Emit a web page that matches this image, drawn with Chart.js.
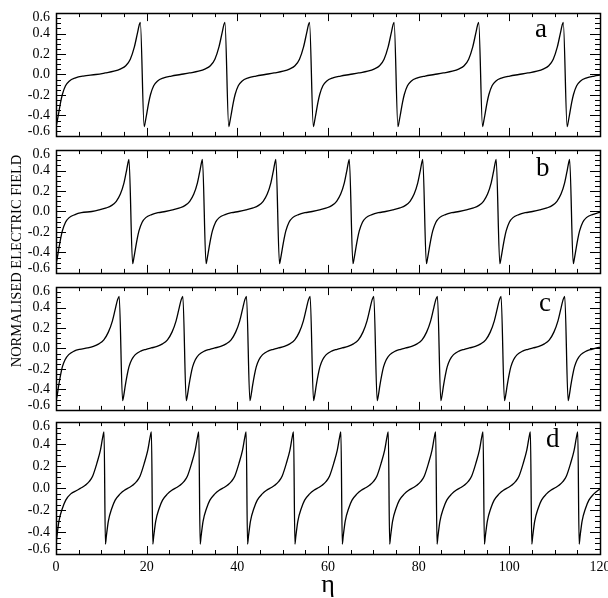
<!DOCTYPE html>
<html>
<head>
<meta charset="utf-8">
<script src="https://cdn.jsdelivr.net/npm/chart.js@4.4.0/dist/chart.umd.min.js"></script>
<style>
  html, body { margin: 0; padding: 0; background: #fff; }
  #wrap { position: relative; width: 608px; height: 598px; overflow: hidden; }
  #wrap canvas { position: absolute; left: 0; }
  #ytitle {
    position: absolute; left: -134px; top: 253px; width: 300px; height: 16px;
    line-height: 16px; text-align: center; transform: rotate(-90deg);
    font: 14.5px "Liberation Serif", "DejaVu Serif", serif; color: #000; white-space: nowrap;
  }
</style>
</head>
<body>
<div id="wrap">
  <canvas id="pa"></canvas>
  <canvas id="pb"></canvas>
  <canvas id="pc"></canvas>
  <canvas id="pd"></canvas>
  <div id="ytitle">NORMALISED ELECTRIC FIELD</div>
</div>
<script>
// ── values ─────────────────────────────────────────────────
const panelLabels = ["a", "b", "c", "d"];
const xTickValues = [0, 20, 40, 60, 80, 100, 120];
const yTickValues = [-0.6, -0.4, -0.2, 0.0, 0.2, 0.4, 0.6];

// panel a
const etaA = [
  0, 0.25, 0.6, 1.0, 1.4, 2.1, 2.9, 4.3, 6.0, 8.79, 10.79, 12.79, 14.29, 15.39, 16.39, 17.29, 17.99, 18.34, 18.6,
  19.45, 19.7, 20.05, 20.45, 20.85, 21.55, 22.35, 23.75, 25.45, 27.45, 29.45, 31.45, 32.95, 34.05, 35.05, 35.95, 36.65, 37.0, 37.26,
  38.11, 38.36, 38.71, 39.11, 39.51, 40.21, 41.01, 42.41, 44.11, 46.11, 48.11, 50.11, 51.61, 52.71, 53.71, 54.61, 55.31, 55.66, 55.92,
  56.77, 57.02, 57.37, 57.77, 58.17, 58.87, 59.67, 61.07, 62.77, 64.77, 66.77, 68.77, 70.27, 71.37, 72.37, 73.27, 73.97, 74.32, 74.58,
  75.43, 75.68, 76.03, 76.43, 76.83, 77.53, 78.33, 79.73, 81.43, 83.43, 85.43, 87.43, 88.93, 90.03, 91.03, 91.93, 92.63, 92.98, 93.24,
  94.09, 94.34, 94.69, 95.09, 95.49, 96.19, 96.99, 98.39, 100.09, 102.09, 104.09, 106.09, 107.59, 108.69, 109.69, 110.59, 111.29, 111.64, 111.9,
  112.75, 113.0, 113.35, 113.75, 114.15, 114.85, 115.65, 117.05, 118.75, 120
];
const fieldA = [
  -0.51, -0.46, -0.375, -0.275, -0.195, -0.11, -0.065, -0.033, -0.015, 0, 0.015, 0.032, 0.055, 0.085, 0.15, 0.27, 0.41, 0.48, 0.51,
  -0.51, -0.46, -0.375, -0.275, -0.195, -0.11, -0.065, -0.033, -0.015, 0, 0.015, 0.032, 0.055, 0.085, 0.15, 0.27, 0.41, 0.48, 0.51,
  -0.51, -0.46, -0.375, -0.275, -0.195, -0.11, -0.065, -0.033, -0.015, 0, 0.015, 0.032, 0.055, 0.085, 0.15, 0.27, 0.41, 0.48, 0.51,
  -0.51, -0.46, -0.375, -0.275, -0.195, -0.11, -0.065, -0.033, -0.015, 0, 0.015, 0.032, 0.055, 0.085, 0.15, 0.27, 0.41, 0.48, 0.51,
  -0.51, -0.46, -0.375, -0.275, -0.195, -0.11, -0.065, -0.033, -0.015, 0, 0.015, 0.032, 0.055, 0.085, 0.15, 0.27, 0.41, 0.48, 0.51,
  -0.51, -0.46, -0.375, -0.275, -0.195, -0.11, -0.065, -0.033, -0.015, 0, 0.015, 0.032, 0.055, 0.085, 0.15, 0.27, 0.41, 0.48, 0.51,
  -0.51, -0.46, -0.375, -0.275, -0.195, -0.11, -0.065, -0.033, -0.015, -0.006
];

// panel b
const etaB = [
  0, 0.25, 0.6, 1.0, 1.4, 2.1, 2.9, 4.2, 5.6, 7.9, 9.5, 11.1, 12.3, 13.3, 14.2, 15.0, 15.6, 15.9, 16.1,
  16.9, 17.15, 17.5, 17.9, 18.3, 19.0, 19.8, 21.1, 22.5, 24.1, 25.7, 27.3, 28.5, 29.5, 30.4, 31.2, 31.8, 32.1, 32.3,
  33.1, 33.35, 33.7, 34.1, 34.5, 35.2, 36.0, 37.3, 38.7, 40.3, 41.9, 43.5, 44.7, 45.7, 46.6, 47.4, 48.0, 48.3, 48.5,
  49.3, 49.55, 49.9, 50.3, 50.7, 51.4, 52.2, 53.5, 54.9, 56.5, 58.1, 59.7, 60.9, 61.9, 62.8, 63.6, 64.2, 64.5, 64.7,
  65.5, 65.75, 66.1, 66.5, 66.9, 67.6, 68.4, 69.7, 71.1, 72.7, 74.3, 75.9, 77.1, 78.1, 79.0, 79.8, 80.4, 80.7, 80.9,
  81.7, 81.95, 82.3, 82.7, 83.1, 83.8, 84.6, 85.9, 87.3, 88.9, 90.5, 92.1, 93.3, 94.3, 95.2, 96.0, 96.6, 96.9, 97.1,
  97.9, 98.15, 98.5, 98.9, 99.3, 100.0, 100.8, 102.1, 103.5, 105.1, 106.7, 108.3, 109.5, 110.5, 111.4, 112.2, 112.8, 113.1, 113.3,
  114.1, 114.35, 114.7, 115.1, 115.5, 116.2, 117.0, 118.3, 119.7, 120
];
const fieldB = [
  -0.51, -0.46, -0.37, -0.27, -0.19, -0.105, -0.06, -0.03, -0.012, 0, 0.015, 0.035, 0.06, 0.1, 0.17, 0.28, 0.41, 0.48, 0.51,
  -0.51, -0.46, -0.37, -0.27, -0.19, -0.105, -0.06, -0.03, -0.012, 0, 0.015, 0.035, 0.06, 0.1, 0.17, 0.28, 0.41, 0.48, 0.51,
  -0.51, -0.46, -0.37, -0.27, -0.19, -0.105, -0.06, -0.03, -0.012, 0, 0.015, 0.035, 0.06, 0.1, 0.17, 0.28, 0.41, 0.48, 0.51,
  -0.51, -0.46, -0.37, -0.27, -0.19, -0.105, -0.06, -0.03, -0.012, 0, 0.015, 0.035, 0.06, 0.1, 0.17, 0.28, 0.41, 0.48, 0.51,
  -0.51, -0.46, -0.37, -0.27, -0.19, -0.105, -0.06, -0.03, -0.012, 0, 0.015, 0.035, 0.06, 0.1, 0.17, 0.28, 0.41, 0.48, 0.51,
  -0.51, -0.46, -0.37, -0.27, -0.19, -0.105, -0.06, -0.03, -0.012, 0, 0.015, 0.035, 0.06, 0.1, 0.17, 0.28, 0.41, 0.48, 0.51,
  -0.51, -0.46, -0.37, -0.27, -0.19, -0.105, -0.06, -0.03, -0.012, 0, 0.015, 0.035, 0.06, 0.1, 0.17, 0.28, 0.41, 0.48, 0.51,
  -0.51, -0.46, -0.37, -0.27, -0.19, -0.105, -0.06, -0.03, -0.012, -0.008
];

// panel c
const etaC = [
  0, 0.25, 0.6, 1.0, 1.4, 2.0, 2.8, 4.0, 5.2, 6.95, 8.25, 9.45, 10.55, 11.55, 12.45, 13.15, 13.6, 13.94,
  14.69, 14.94, 15.29, 15.69, 16.09, 16.69, 17.49, 18.69, 19.89, 20.99, 22.29, 23.49, 24.59, 25.59, 26.49, 27.19, 27.64, 27.98,
  28.73, 28.98, 29.33, 29.73, 30.13, 30.73, 31.53, 32.73, 33.93, 35.03, 36.33, 37.53, 38.63, 39.63, 40.53, 41.23, 41.68, 42.02,
  42.77, 43.02, 43.37, 43.77, 44.17, 44.77, 45.57, 46.77, 47.97, 49.07, 50.37, 51.57, 52.67, 53.67, 54.57, 55.27, 55.72, 56.06,
  56.81, 57.06, 57.41, 57.81, 58.21, 58.81, 59.61, 60.81, 62.01, 63.11, 64.41, 65.61, 66.71, 67.71, 68.61, 69.31, 69.76, 70.1,
  70.85, 71.1, 71.45, 71.85, 72.25, 72.85, 73.65, 74.85, 76.05, 77.15, 78.45, 79.65, 80.75, 81.75, 82.65, 83.35, 83.8, 84.14,
  84.89, 85.14, 85.49, 85.89, 86.29, 86.89, 87.69, 88.89, 90.09, 91.19, 92.49, 93.69, 94.79, 95.79, 96.69, 97.39, 97.84, 98.18,
  98.93, 99.18, 99.53, 99.93, 100.33, 100.93, 101.73, 102.93, 104.13, 105.23, 106.53, 107.73, 108.83, 109.83, 110.73, 111.43, 111.88, 112.22,
  112.97, 113.22, 113.57, 113.97, 114.37, 114.97, 115.77, 116.97, 118.17, 119.27, 120
];
const fieldC = [
  -0.51, -0.46, -0.36, -0.26, -0.18, -0.11, -0.06, -0.025, -0.008, 0.005, 0.02, 0.045, 0.085, 0.16, 0.27, 0.4, 0.48, 0.51,
  -0.51, -0.46, -0.36, -0.26, -0.18, -0.11, -0.06, -0.025, -0.008, 0.005, 0.02, 0.045, 0.085, 0.16, 0.27, 0.4, 0.48, 0.51,
  -0.51, -0.46, -0.36, -0.26, -0.18, -0.11, -0.06, -0.025, -0.008, 0.005, 0.02, 0.045, 0.085, 0.16, 0.27, 0.4, 0.48, 0.51,
  -0.51, -0.46, -0.36, -0.26, -0.18, -0.11, -0.06, -0.025, -0.008, 0.005, 0.02, 0.045, 0.085, 0.16, 0.27, 0.4, 0.48, 0.51,
  -0.51, -0.46, -0.36, -0.26, -0.18, -0.11, -0.06, -0.025, -0.008, 0.005, 0.02, 0.045, 0.085, 0.16, 0.27, 0.4, 0.48, 0.51,
  -0.51, -0.46, -0.36, -0.26, -0.18, -0.11, -0.06, -0.025, -0.008, 0.005, 0.02, 0.045, 0.085, 0.16, 0.27, 0.4, 0.48, 0.51,
  -0.51, -0.46, -0.36, -0.26, -0.18, -0.11, -0.06, -0.025, -0.008, 0.005, 0.02, 0.045, 0.085, 0.16, 0.27, 0.4, 0.48, 0.51,
  -0.51, -0.46, -0.36, -0.26, -0.18, -0.11, -0.06, -0.025, -0.008, 0.005, 0.02, 0.045, 0.085, 0.16, 0.27, 0.4, 0.48, 0.51,
  -0.51, -0.46, -0.36, -0.26, -0.18, -0.11, -0.06, -0.025, -0.008, 0.005, 0.012
];

// panel d
const etaD = [
  0, 0.2, 0.65, 1.4, 2.15, 3.25, 4.65, 5.5, 6.45, 7.35, 8.1, 9.05, 9.8, 10.3, 10.6,
  10.9, 11.1, 11.55, 12.3, 13.05, 14.15, 15.1, 15.95, 16.9, 17.8, 18.55, 19.5, 20.25, 20.75, 21.05,
  21.35, 21.55, 22.0, 22.75, 23.5, 24.6, 25.55, 26.4, 27.35, 28.25, 29.0, 29.95, 30.7, 31.2, 31.5,
  31.8, 32.0, 32.45, 33.2, 33.95, 35.05, 36.0, 36.85, 37.8, 38.7, 39.45, 40.4, 41.15, 41.65, 41.95,
  42.25, 42.45, 42.9, 43.65, 44.4, 45.5, 46.45, 47.3, 48.25, 49.15, 49.9, 50.85, 51.6, 52.1, 52.4,
  52.7, 52.9, 53.35, 54.1, 54.85, 55.95, 56.9, 57.75, 58.7, 59.6, 60.35, 61.3, 62.05, 62.55, 62.85,
  63.15, 63.35, 63.8, 64.55, 65.3, 66.4, 67.35, 68.2, 69.15, 70.05, 70.8, 71.75, 72.5, 73.0, 73.3,
  73.6, 73.8, 74.25, 75.0, 75.75, 76.85, 77.8, 78.65, 79.6, 80.5, 81.25, 82.2, 82.95, 83.45, 83.75,
  84.05, 84.25, 84.7, 85.45, 86.2, 87.3, 88.25, 89.1, 90.05, 90.95, 91.7, 92.65, 93.4, 93.9, 94.2,
  94.5, 94.7, 95.15, 95.9, 96.65, 97.75, 98.7, 99.55, 100.5, 101.4, 102.15, 103.1, 103.85, 104.35, 104.65,
  104.95, 105.15, 105.6, 106.35, 107.1, 108.2, 109.15, 110.0, 110.95, 111.85, 112.6, 113.55, 114.3, 114.8, 115.1,
  115.4, 115.6, 116.05, 116.8, 117.55, 118.65, 119.6, 120
];
const fieldD = [
  -0.51, -0.44, -0.30, -0.186, -0.11, -0.053, -0.02, 0, 0.025, 0.06, 0.11, 0.23, 0.345, 0.46, 0.51,
  -0.51, -0.44, -0.30, -0.186, -0.11, -0.053, -0.02, 0, 0.025, 0.06, 0.11, 0.23, 0.345, 0.46, 0.51,
  -0.51, -0.44, -0.30, -0.186, -0.11, -0.053, -0.02, 0, 0.025, 0.06, 0.11, 0.23, 0.345, 0.46, 0.51,
  -0.51, -0.44, -0.30, -0.186, -0.11, -0.053, -0.02, 0, 0.025, 0.06, 0.11, 0.23, 0.345, 0.46, 0.51,
  -0.51, -0.44, -0.30, -0.186, -0.11, -0.053, -0.02, 0, 0.025, 0.06, 0.11, 0.23, 0.345, 0.46, 0.51,
  -0.51, -0.44, -0.30, -0.186, -0.11, -0.053, -0.02, 0, 0.025, 0.06, 0.11, 0.23, 0.345, 0.46, 0.51,
  -0.51, -0.44, -0.30, -0.186, -0.11, -0.053, -0.02, 0, 0.025, 0.06, 0.11, 0.23, 0.345, 0.46, 0.51,
  -0.51, -0.44, -0.30, -0.186, -0.11, -0.053, -0.02, 0, 0.025, 0.06, 0.11, 0.23, 0.345, 0.46, 0.51,
  -0.51, -0.44, -0.30, -0.186, -0.11, -0.053, -0.02, 0, 0.025, 0.06, 0.11, 0.23, 0.345, 0.46, 0.51,
  -0.51, -0.44, -0.30, -0.186, -0.11, -0.053, -0.02, 0, 0.025, 0.06, 0.11, 0.23, 0.345, 0.46, 0.51,
  -0.51, -0.44, -0.30, -0.186, -0.11, -0.053, -0.02, 0, 0.025, 0.06, 0.11, 0.23, 0.345, 0.46, 0.51,
  -0.51, -0.44, -0.30, -0.186, -0.11, -0.053, -0.02, -0.012
];

// ── layout ────────────────────────────────────────────────
const FONT = "'Liberation Serif', 'DejaVu Serif', serif";
const PAD = 12;
const panels = [
  { id: "pa", label: panelLabels[0], eta: etaA, field: fieldA, top: 10,  bottom: 139, lx: 535, ly: 24 },
  { id: "pb", label: panelLabels[1], eta: etaB, field: fieldB, top: 147, bottom: 276, lx: 536, ly: 26 },
  { id: "pc", label: panelLabels[2], eta: etaC, field: fieldC, top: 284, bottom: 413, lx: 539, ly: 24 },
  { id: "pd", label: panelLabels[3], eta: etaD, field: fieldD, top: 419, bottom: 554, lx: 546, ly: 25, last: true }
];

// box + inward ticks on all four sides, and the panel letter
const frameTicks = {
  id: "frameTicks",
  afterDraw(chart, args, opts) {
    const { ctx, chartArea: a } = chart;
    const x = chart.scales.x, y = chart.scales.y;
    ctx.save();
    ctx.strokeStyle = "#000";
    ctx.lineWidth = 1;
    ctx.beginPath();
    for (let i = 0; i <= 24; i++) {
      const py = Math.round(y.getPixelForValue(-0.6 + i * 0.05)) + 0.5;
      const len = i % 4 === 0 ? 10 : 5;
      ctx.moveTo(a.left, py); ctx.lineTo(a.left + len, py);
      ctx.moveTo(a.right, py); ctx.lineTo(a.right - len, py);
    }
    for (let i = 0; i <= 24; i++) {
      const px = Math.round(x.getPixelForValue(i * 5)) + 0.5;
      const len = i % 4 === 0 ? 8 : 4;
      ctx.moveTo(px, a.bottom); ctx.lineTo(px, a.bottom - len);
      ctx.moveTo(px, a.top); ctx.lineTo(px, a.top + len);
    }
    ctx.stroke();
    ctx.lineWidth = 1.5;
    ctx.strokeRect(Math.round(a.left) + 0.5, Math.round(a.top) + 0.5,
                   Math.round(a.right - a.left), Math.round(a.bottom - a.top));
    ctx.fillStyle = "#000";
    ctx.font = "27px " + FONT;
    ctx.textAlign = "left";
    ctx.textBaseline = "alphabetic";
    ctx.fillText(opts.label, opts.lx, a.top + opts.ly);
    ctx.restore();
  }
};

// end labels sit inside the box, as in the figure
function yLabel(v) {
  const s = (Math.abs(v) < 1e-9 ? 0 : v).toFixed(1);
  if (v > 0.59) return ["", s];
  if (v < -0.59) return [s, ""];
  return s;
}

panels.forEach(p => {
  const canvas = document.getElementById(p.id);
  const canvasTop = p.top - PAD;
  const canvasH = p.last ? 598 - canvasTop : (p.bottom - p.top) + 2 * PAD;
  canvas.width = 608;
  canvas.height = canvasH;
  canvas.style.top = canvasTop + "px";

  new Chart(canvas, {
    type: "line",
    data: {
      datasets: [{
        data: p.eta.map((e, i) => ({ x: e, y: p.field[i] })),
        borderColor: "#000",
        borderWidth: 1.3,
        pointRadius: 0,
        fill: false,
        cubicInterpolationMode: "monotone"
      }]
    },
    options: {
      responsive: false,
      animation: false,
      events: [],
      layout: { padding: { left: 0, right: 8, top: PAD, bottom: p.last ? 0 : PAD } },
      plugins: {
        legend: { display: false },
        tooltip: { enabled: false },
        frameTicks: { label: p.label, lx: p.lx, ly: p.ly }
      },
      scales: {
        x: {
          type: "linear",
          min: 0, max: 120,
          display: !!p.last,
          grid: { display: false, drawTicks: false },
          border: { display: false },
          afterBuildTicks: s => { s.ticks = xTickValues.map(v => ({ value: v })); },
          afterFit: s => {
            if (p.last) s.height = 598 - p.bottom;
            s.paddingLeft = 0;
            s.paddingRight = 0;
          },
          ticks: {
            color: "#000", padding: 5, maxRotation: 0, autoSkip: false,
            font: { size: 14, family: FONT },
            callback: v => String(v)
          },
          title: {
            display: true, text: "η", color: "#000",
            font: { size: 26, family: FONT, lineHeight: 1 },
            padding: { top: 0, bottom: 0 }
          }
        },
        y: {
          min: -0.6, max: 0.6,
          grid: { display: false, drawTicks: false },
          border: { display: false },
          afterBuildTicks: s => { s.ticks = yTickValues.map(v => ({ value: v })); },
          afterFit: s => { s.width = 56; },
          ticks: {
            color: "#000", padding: 6, autoSkip: false,
            font: { size: 14, family: FONT, lineHeight: 0.65 },
            callback: yLabel
          }
        }
      }
    },
    plugins: [frameTicks]
  });
});
</script>
</body>
</html>
